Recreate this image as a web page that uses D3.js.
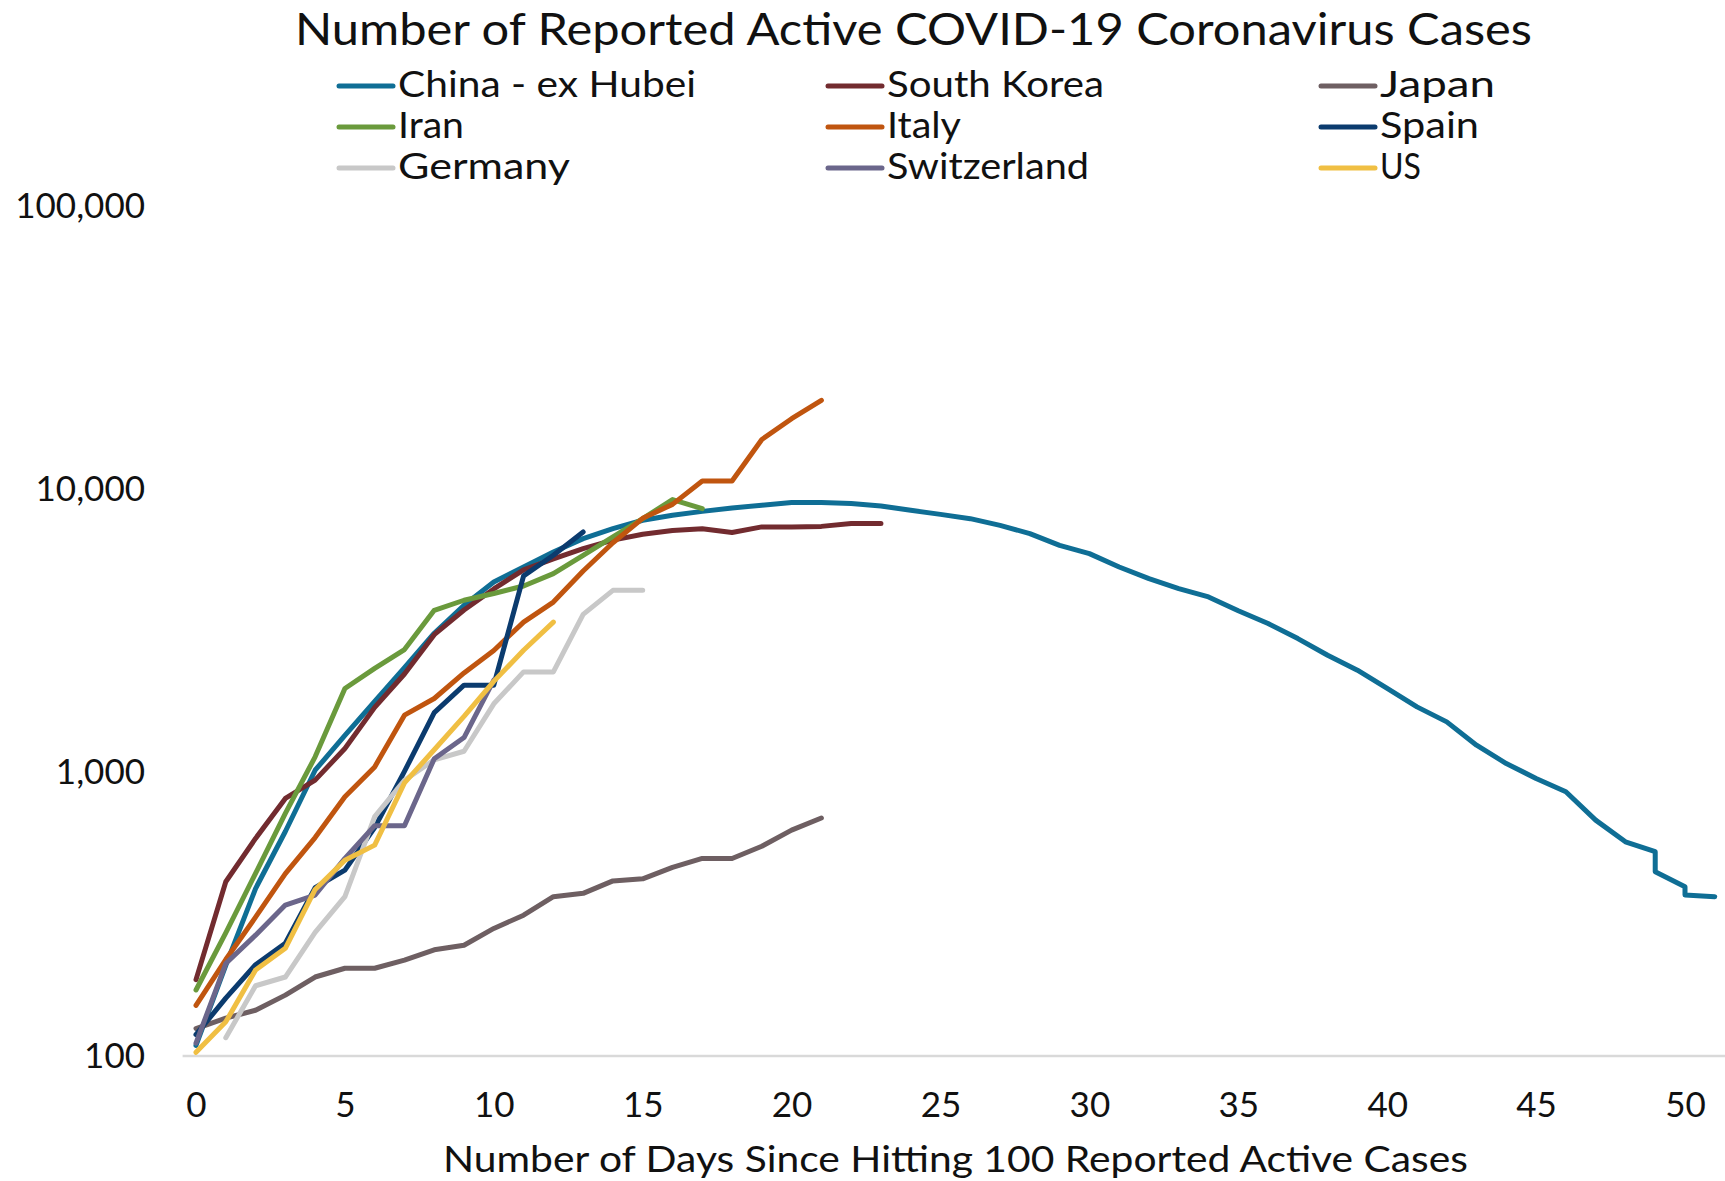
<!DOCTYPE html>
<html>
<head>
<meta charset="utf-8">
<script src="https://cdn.jsdelivr.net/npm/d3@7"></script>
<style>
  html, body { margin: 0; padding: 0; background: #fff; }
  svg text { font-family: "Century Gothic", Lato, "Open Sans", sans-serif; fill: #111; }
</style>
</head>
<body>
<svg id="chart" width="1725" height="1181"></svg>
<script>
// ---------- DATA ----------
const seriesNames = ["China - ex Hubei", "South Korea", "Japan", "Iran", "Italy", "Spain", "Germany", "Switzerland", "US"];
const seriesColors = ["#0f6e95", "#722b2f", "#6e5f62", "#6a9a3c", "#c0550f", "#0b3b6e", "#c8c8c8", "#6b668b", "#f0bf43"];

const chinaDays = [0,1,2,3,4,5,6,7,8,9,10,11,12,13,14,15,16,17,18,19,20,21,22,23,24,25,26,27,28,29,30,31,32,33,34,35,36,37,38,39,40,41,42,43,44,45,46,47,48,49,49,50,50,51];
const chinaValues = [109,209,390,620,1020,1353,1783,2350,3105,3900,4710,5320,6010,6700,7270,7780,8100,8360,8600,8790,8980,8980,8910,8730,8430,8160,7880,7460,6980,6340,5930,5320,4840,4465,4170,3730,3360,2973,2597,2300,1982,1707,1511,1250,1077,954,856,680,570,526,447,396,370,365];
const southKoreaValues = [186,412,586,811,941,1217,1700,2230,3070,3750,4450,5200,5680,6180,6620,6940,7160,7260,7040,7370,7370,7400,7570,7570];
const japanValues = [125,136,145,164,190,204,204,218,237,246,282,314,365,375,415,422,463,498,498,550,627,692];
const iranValues = [171,272,441,718,1137,1982,2334,2720,3742,4060,4290,4560,5040,5850,6790,7880,9200,8550];
const italyValues = [151,219,309,440,590,822,1048,1596,1827,2250,2700,3400,4000,5150,6480,7900,8850,10700,10700,15000,17750,20600];
const spainValues = [119,160,210,250,393,453,640,1010,1630,2036,2036,4950,5850,7070];
const germanyValues = [null,116,177,190,273,365,700,940,1110,1190,1750,2268,2268,3620,4400,4400];
const switzerlandValues = [111,212,267,341,370,498,650,650,1120,1330,2120];
const usValues = [103,132,201,240,387,491,555,920,1205,1580,2100,2705,3400];

const yTickValues = [100, 1000, 10000, 100000];
const xTickValues = [0,5,10,15,20,25,30,35,40,45,50];

const titleText = "Number of Reported Active COVID-19 Coronavirus Cases";
const xAxisTitle = "Number of Days Since Hitting 100 Reported Active Cases";

// ---------- LAYOUT (measured label widths of the legend entries) ----------
const legendTextWidths = [298, 217, 115, 66, 74, 99, 172, 202, 41];

// ---------- BUILD ----------
const valueArrays = [chinaValues, southKoreaValues, japanValues, iranValues, italyValues, spainValues, germanyValues, switzerlandValues, usValues];
const series = seriesNames.map((name, i) => {
  const vals = valueArrays[i];
  const days = i === 0 ? chinaDays : vals.map((_, j) => j);
  return { name, color: seriesColors[i], points: vals.map((v, j) => ({ day: days[j], value: v })) };
});

const svg = d3.select("#chart");
const W = 1725;

const x = d3.scaleLinear().domain([0, 50]).range([196, 1685]);
const y = d3.scaleLog().domain([100, 100000]).range([1056, 206]);

// Title
svg.append("text")
  .attr("x", 295).attr("y", 45)
  .attr("font-size", 44)
  .attr("textLength", 1237).attr("lengthAdjust", "spacingAndGlyphs")
  .text(titleText);

// Legend
const legCols = [339, 828, 1321];
const legRows = [86, 127, 168];
const legend = svg.append("g");
series.forEach((s, i) => {
  const cx = legCols[i % 3], cy = legRows[Math.floor(i / 3)];
  legend.append("line")
    .attr("x1", cx).attr("x2", cx + 54).attr("y1", cy).attr("y2", cy)
    .attr("stroke", s.color).attr("stroke-width", 5).attr("stroke-linecap", "round");
  legend.append("text")
    .attr("x", cx + 59).attr("y", cy + 11)
    .attr("font-size", 36)
    .attr("textLength", legendTextWidths[i]).attr("lengthAdjust", "spacingAndGlyphs")
    .text(s.name);
});

// Y axis
const yAxis = d3.axisLeft(y).tickValues(yTickValues).tickFormat(d3.format(",")).tickSize(0).tickPadding(0);
const gy = svg.append("g").attr("transform", "translate(145,0)").call(yAxis);
gy.select(".domain").remove();
gy.selectAll("text").attr("font-size", 35).attr("font-family", null).attr("fill", "#111");

// X axis
const xAxis = d3.axisBottom(x).tickValues(xTickValues).tickFormat(d3.format("d")).tickSize(0).tickPadding(36);
const gx = svg.append("g").attr("transform", "translate(0,1056)").call(xAxis);
gx.select(".domain").remove();
gx.selectAll("text").attr("font-size", 35).attr("font-family", null).attr("fill", "#111");
svg.append("line")
  .attr("x1", x(-0.45)).attr("x2", W)
  .attr("y1", y(100)).attr("y2", y(100))
  .attr("stroke", "#d9d9d9").attr("stroke-width", 2.5);

// X axis title
svg.append("text")
  .attr("x", 443).attr("y", 1172)
  .attr("font-size", 37)
  .attr("textLength", 1025).attr("lengthAdjust", "spacingAndGlyphs")
  .text(xAxisTitle);

// Lines
const line = d3.line()
  .defined(d => d.value != null)
  .x(d => x(d.day))
  .y(d => y(d.value));

svg.append("g").selectAll("path")
  .data(series)
  .join("path")
  .attr("d", d => line(d.points))
  .attr("fill", "none")
  .attr("stroke", d => d.color)
  .attr("stroke-width", 5)
  .attr("stroke-linejoin", "round")
  .attr("stroke-linecap", "round");
</script>
</body>
</html>
